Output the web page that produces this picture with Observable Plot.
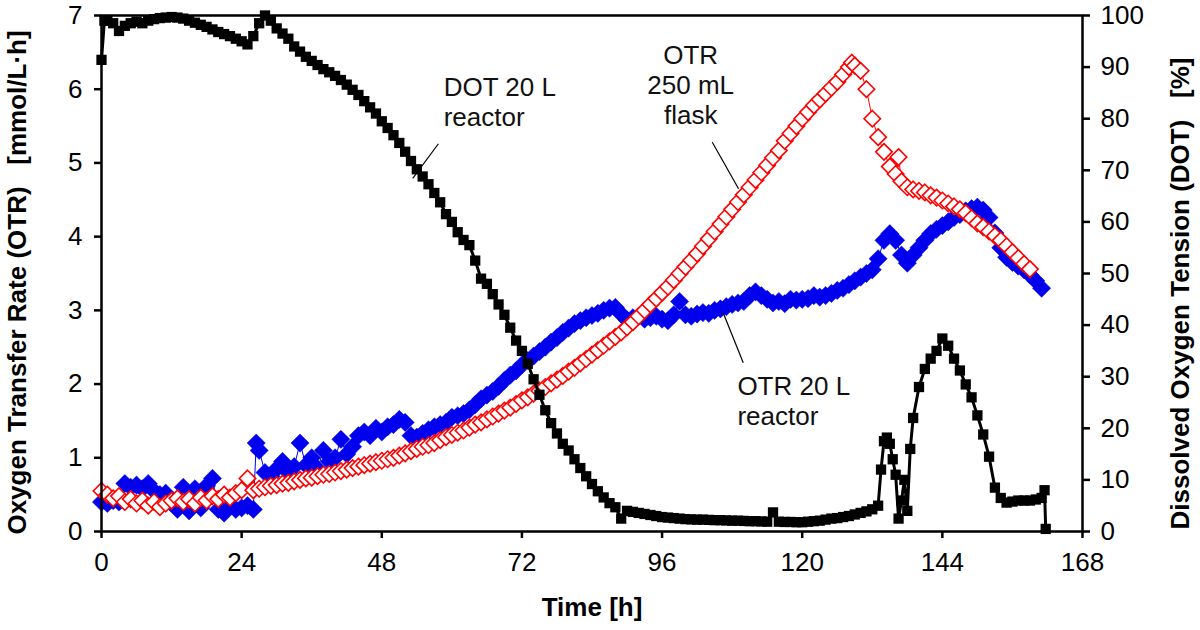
<!DOCTYPE html>
<html><head><meta charset="utf-8">
<script src="https://cdn.jsdelivr.net/npm/d3@7"></script>
<script src="https://cdn.jsdelivr.net/npm/@observablehq/plot@0.6"></script>
<style>body{margin:0;background:#fff;} #chart svg{display:block;}</style>
</head><body><div id="chart"></div>
<script>
// Tick labels
const xTicks = [0, 24, 48, 72, 96, 120, 144, 168];
const otrTicks = [0, 1, 2, 3, 4, 5, 6, 7];
const dotTicks = [0, 10, 20, 30, 40, 50, 60, 70, 80, 90, 100];

// DOT 20 L reactor [time h, DOT %]
const dotReactor = [[0,91.4],[0.5,99],[1,99],[2,98.5],[3,97],[4,98],[5,98.5],[6,98.8],[7,98.5],[8,99],[9,99.3],[10,99.5],[11,99.6],[12,99.7],[13,99.6],[14,99.4],[15,99],[16,98.6],[17,98.2],[18,97.8],[19,97.3],[20,96.8],[21,96.4],[22,96],[23,95.5],[24,95],[25,94.4],[26,96],[27,98.5],[28,100],[29,99],[30,97.5],[31,96.5],[32,95.5],[33,94],[34,93],[35,92],[36,91.2],[37,90.4],[38,89.6],[39,89],[40,88.3],[41,87.5],[42,86.6],[43,85.6],[44,84.6],[45,83.4],[46,82.2],[47,81],[48,79.5],[49,78.2],[50,76.8],[51,75.3],[52,73.6],[53,71.8],[54,70.2],[55,68.8],[56,67.3],[57,65.6],[58,63.8],[59,61.5],[60,60],[61,58],[62,56.5],[63,55.5],[64,52.5],[65,49],[66,48],[67,46],[68,44],[69,42],[70,39.5],[71,37],[72,35],[73,32.5],[74,29.5],[75,26.5],[76,23.5],[77,21],[78,19],[79,17],[80,15.7],[81,14],[82,12.3],[83,10.7],[84,9.2],[85,7.8],[86,6.6],[87,5.5],[88,4.7],[89,2.5],[90,4],[91,3.8],[92,3.6],[93,3.4],[94,3.2],[95,3],[96,2.8],[97,2.7],[98,2.6],[99,2.5],[100,2.4],[101,2.35],[102,2.3],[103,2.3],[104,2.25],[105,2.2],[106,2.2],[107,2.15],[108,2.1],[109,2.1],[110,2.05],[111,2],[112,2],[113,1.95],[114,1.9],[115,3.7],[116,1.9],[117,1.85],[118,1.85],[119,1.8],[120,1.8],[121,1.9],[122,2],[123,2.1],[124,2.3],[125,2.5],[126,2.6],[127,2.8],[128,3],[129,3.3],[130,3.6],[131,3.9],[132,4.3],[133,5],[133.5,12],[134,17.5],[134.5,18.2],[135,17],[135.5,14],[136,11],[136.5,2.5],[137,6],[137.5,10],[138,4],[138.5,16],[139,22],[140,28],[141,31.5],[142,33.5],[143,35],[144,37.4],[145,36],[146,33.5],[147,31.2],[148,28.5],[149,26],[150,22.5],[151,18.8],[152,14.5],[153,8.5],[154,6.5],[155,5.6],[156,5.8],[157,6],[158,6],[159,6],[160,6.2],[161,6.5],[161.5,8],[161.7,0.5]];

// OTR 250 mL flask [time h, OTR mmol/L/h]
const otrFlask = [[0,0.55],[1,0.5],[2,0.45],[3,0.48],[4,0.4],[5,0.44],[6,0.38],[7,0.42],[8,0.35],[9,0.4],[10,0.33],[11,0.38],[12,0.42],[13,0.45],[14,0.4],[15,0.44],[16,0.38],[17,0.46],[18,0.42],[19,0.48],[20,0.44],[21,0.5],[22,0.46],[23,0.52],[24,0.56],[25,0.72],[26,0.56],[27,0.58],[28,0.6],[29,0.62],[30,0.63],[31,0.65],[32,0.66],[33,0.68],[34,0.7],[35,0.72],[36,0.73],[37,0.75],[38,0.77],[39,0.78],[40,0.8],[41,0.82],[42,0.84],[43,0.86],[44,0.88],[45,0.9],[46,0.92],[47,0.94],[48,0.96],[49,0.98],[50,1.0],[51,1.03],[52,1.06],[53,1.09],[54,1.12],[55,1.15],[56,1.17],[57,1.2],[58,1.24],[59,1.28],[60,1.31],[61,1.34],[62,1.37],[63,1.41],[64,1.45],[65,1.48],[66,1.52],[67,1.56],[68,1.6],[69,1.64],[70,1.68],[71,1.73],[72,1.78],[73,1.82],[74,1.87],[75,1.91],[76,1.96],[77,2.01],[78,2.06],[79,2.11],[80,2.17],[81,2.22],[82,2.28],[83,2.34],[84,2.4],[85,2.46],[86,2.52],[87,2.58],[88,2.64],[89,2.7],[90,2.77],[91,2.84],[92,2.92],[93,3.0],[94,3.08],[95,3.16],[96,3.24],[97,3.32],[98,3.41],[99,3.5],[100,3.59],[101,3.68],[102,3.77],[103,3.87],[104,3.97],[105,4.07],[106,4.17],[107,4.27],[108,4.37],[109,4.47],[110,4.57],[111,4.67],[112,4.77],[113,4.87],[114,4.97],[115,5.07],[116,5.17],[117,5.3],[118,5.4],[119,5.5],[120,5.6],[121,5.69],[122,5.78],[123,5.86],[124,5.94],[125,6.02],[126,6.1],[127,6.2],[128,6.3],[128.5,6.36],[129,6.32],[130,6.25],[131,6.0],[132,5.6],[133,5.35],[134,5.15],[135,4.95],[136,4.85],[136.5,5.08],[137,4.75],[138,4.67],[139,4.64],[140,4.62],[141,4.6],[142,4.56],[143,4.53],[144,4.49],[145,4.45],[146,4.41],[147,4.37],[148,4.32],[149,4.25],[150,4.18],[151,4.13],[152,4.07],[153,4.01],[154,3.95],[155,3.87],[156,3.79],[157,3.71],[158,3.63],[159,3.56]];

// OTR 20 L reactor [time h, OTR mmol/L/h]
const otrReactor = [[0,0.4],[1,0.38],[2,0.42],[3,0.4],[4,0.65],[5,0.6],[6,0.63],[7,0.58],[8,0.65],[9,0.55],[10,0.5],[11,0.52],[12,0.42],[13,0.3],[14,0.6],[15,0.28],[16,0.58],[17,0.32],[18,0.62],[19,0.72],[20,0.3],[21,0.25],[22,0.35],[23,0.3],[24,0.32],[25,0.35],[26,0.3],[26.5,1.2],[27,1.1],[28,0.8],[29,0.75],[30,0.85],[31,0.95],[32,0.8],[33,0.88],[34,1.2],[35,0.9],[36,1.0],[37,0.85],[38,1.1],[39,0.95],[40,1.0],[41,1.25],[42,1.05],[43,1.15],[44,1.3],[45,1.35],[46,1.3],[47,1.4],[48,1.35],[49,1.42],[50,1.45],[51,1.52],[52,1.48],[53,1.3],[54,1.28],[55,1.33],[56,1.38],[57,1.42],[58,1.45],[59,1.48],[60,1.55],[61,1.57],[62,1.6],[63,1.65],[64,1.72],[65,1.8],[66,1.85],[67,1.9],[68,1.97],[69,2.05],[70,2.12],[71,2.18],[72,2.26],[73,2.32],[74,2.38],[75,2.44],[76,2.5],[77,2.57],[78,2.63],[79,2.7],[80,2.76],[81,2.82],[82,2.86],[83,2.9],[84,2.93],[85,2.96],[86,3.0],[87,3.03],[88,3.04],[89,2.95],[90,2.87],[91,2.9],[92,2.92],[93,2.88],[94,2.9],[95,2.92],[96,2.88],[97,2.86],[98,2.94],[99,3.12],[100,2.94],[101,2.92],[102,2.95],[103,2.97],[104,2.96],[105,3.0],[106,3.02],[107,3.05],[108,3.08],[109,3.1],[110,3.12],[111,3.2],[112,3.25],[113,3.2],[114,3.15],[115,3.1],[116,3.12],[117,3.09],[118,3.15],[119,3.14],[120,3.15],[121,3.16],[122,3.2],[123,3.18],[124,3.2],[125,3.23],[126,3.27],[127,3.3],[128,3.35],[129,3.4],[130,3.45],[131,3.5],[132,3.55],[133,3.7],[134,3.95],[135,4.04],[136,3.95],[137,3.75],[138,3.64],[139,3.75],[140,3.85],[141,3.95],[142,4.04],[143,4.1],[144,4.15],[145,4.2],[146,4.26],[147,4.3],[148,4.35],[149,4.38],[150,4.4],[151,4.36],[152,4.26],[153,4.05],[154,3.85],[155,3.72],[156,3.65],[157,3.6],[158,3.55],[159,3.48],[160,3.4],[161,3.3]];

// Annotations (data units: time h, OTR)
const annotationText = ["DOT 20 L\nreactor", "OTR\n250 mL\nflask", "OTR 20 L\nreactor"];
const annotationX = [58.6, 100.9, 108.9];
const annotationY = [5.83, 6.06, 1.78];
const annotationAnchor = ["start", "middle", "start"];
const leaderX1 = [57.7, 104.6, 109.9];
const leaderY1 = [5.26, 5.28, 2.29];
const leaderX2 = [53.3, 109.1, 106.5];
const leaderY2 = [4.79, 4.65, 2.96];

const xTitle = "Time [h]";
const yLeftTitle = "Oxygen Transfer Rate (OTR)   [mmol/L·h]";
const yRightTitle = "Dissolved Oxygen Tension (DOT)   [%]";

const S = 7 / 100; // DOT % -> left scale units
const font = "Arial, 'Liberation Sans', sans-serif";
const ann = annotationText.map((t, i) => ({t, x: annotationX[i], y: annotationY[i], a: annotationAnchor[i]}));
const leaders = leaderX1.map((x1, i) => ({x1, y1: leaderY1[i], x2: leaderX2[i], y2: leaderY2[i]}));

const chart = Plot.plot({
  width: 1200, height: 630,
  marginLeft: 101, marginRight: 118, marginTop: 15, marginBottom: 99,
  style: {fontFamily: font, fontSize: "26px", background: "white", color: "black", overflow: "visible"},
  x: {domain: [0, 168]},
  y: {domain: [0, 7]},
  marks: [
    Plot.axisX({ticks: xTicks, tickSize: 7, tickPadding: 14, strokeWidth: 2.5, label: null, tickFormat: d => String(d)}),
    Plot.axisY({ticks: otrTicks, tickSize: 7, tickPadding: 12, strokeWidth: 2.5, label: null, tickFormat: d => String(d)}),
    Plot.axisY({anchor: "right", ticks: dotTicks.map(d => d * S), tickSize: 7, tickPadding: 11, strokeWidth: 2.5, label: null,
      tickFormat: d => String(Math.round(d / S))}),
    // OTR 20 L reactor
    Plot.line(otrReactor, {x: d => d[0], y: d => d[1], stroke: "#0000ee", strokeWidth: 1}),
    Plot.dot(otrReactor, {x: d => d[0], y: d => d[1], symbol: "diamond2", r: 8.2, fill: "#0000ee", stroke: "#0000ee", strokeWidth: 0.5}),
    // OTR 250 mL flask
    Plot.line(otrFlask, {x: d => d[0], y: d => d[1], stroke: "#ff0000", strokeWidth: 1}),
    Plot.dot(otrFlask, {x: d => d[0], y: d => d[1], symbol: "diamond2", r: 7.4, fill: "white", stroke: "#ff0000", strokeWidth: 1.6}),
    // DOT 20 L reactor
    Plot.line(dotReactor, {x: d => d[0], y: d => d[1] * S, stroke: "black", strokeWidth: 3}),
    Plot.dot(dotReactor, {x: d => d[0], y: d => d[1] * S, symbol: "square", r: 5.8, fill: "black"}),
    Plot.frame({stroke: "black", strokeWidth: 2.5}),
    // annotations
    Plot.link(leaders, {x1: "x1", y1: "y1", x2: "x2", y2: "y2", stroke: "black", strokeWidth: 1.2}),
    Plot.text(ann.filter(d => d.a === "start"), {x: "x", y: "y", text: "t", textAnchor: "start", lineHeight: 1.15, fontSize: 26, fill: "#111"}),
    Plot.text(ann.filter(d => d.a === "middle"), {x: "x", y: "y", text: "t", textAnchor: "middle", lineHeight: 1.15, fontSize: 26, fill: "#111"}),
    // axis titles
    Plot.text([xTitle], {frameAnchor: "bottom", dy: 76, fontWeight: "bold", fontSize: 26, lineAnchor: "middle", textAnchor: "middle"}),
    Plot.text([yLeftTitle], {frameAnchor: "left", dx: -84, dy: 9, rotate: -90, fontWeight: "bold", fontSize: 26, lineAnchor: "middle", textAnchor: "middle"}),
    Plot.text([yRightTitle], {frameAnchor: "right", dx: 98, dy: 20, rotate: -90, fontWeight: "bold", fontSize: 26, lineAnchor: "middle", textAnchor: "middle"})
  ]
});
document.getElementById("chart").appendChild(chart);
</script>
</body></html>
